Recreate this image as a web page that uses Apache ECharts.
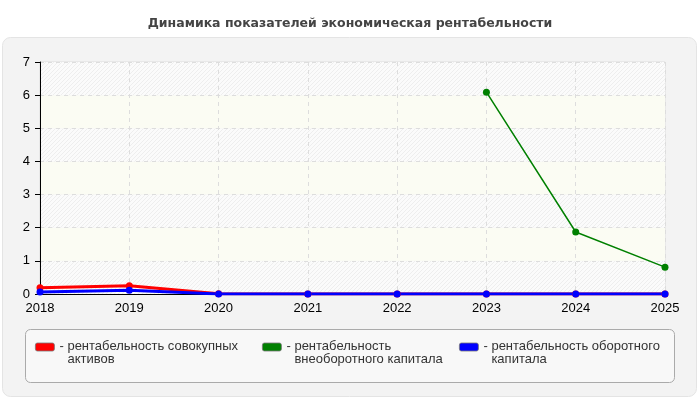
<!DOCTYPE html>
<html lang="ru">
<head>
    <meta charset="UTF-8">
    <title>Динамика показателей</title>
    <script src="https://cdn.jsdelivr.net/npm/echarts@6/dist/echarts.min.js"></script>
    <style>
        html, body { margin: 0; padding: 0; background: #fff; }
        #chart { width: 700px; height: 400px; }
    </style>
</head>
<body>
    <div id="chart"></div>
    <script>
        // data
        var years = ['2018', '2019', '2020', '2021', '2022', '2023', '2024', '2025'];
        var totalAssets = [0.19, 0.25, 0.01, 0, 0, 0, 0, 0];
        var nonCurrent = [null, null, null, null, null, 6.09, 1.87, 0.81];
        var working = [0.06, 0.11, 0, 0, 0, 0, 0, 0];
        var yTicks = [0, 1, 2, 3, 4, 5, 6, 7];

        var names = [
            'рентабельность совокупных активов',
            'рентабельность внеоборотного капитала',
            'рентабельность оборотного капитала'
        ];
        var wrapped = [
            ['рентабельность совокупных', 'активов'],
            ['рентабельность', 'внеоборотного капитала'],
            ['рентабельность оборотного', 'капитала']
        ];
        var colors = ['#ff0000', '#008000', '#0000ff'];

        // diagonal hatch for alternating bands
        function hatch() {
            var c = document.createElement('canvas');
            c.width = 4; c.height = 4;
            var g = c.getContext('2d');
            g.fillStyle = '#fbfbfb';
            g.fillRect(0, 0, 4, 4);
            g.strokeStyle = '#eeeeee';
            g.lineWidth = 1;
            g.beginPath();
            g.moveTo(0, 4); g.lineTo(4, 0);
            g.moveTo(-2, 2); g.lineTo(2, -2);
            g.moveTo(2, 6); g.lineTo(6, 2);
            g.stroke();
            return { image: c, repeat: 'repeat' };
        }

        var chart = echarts.init(document.getElementById('chart'));

        var legendLeft = [35, 262, 459];
        var legends = names.map(function (n, i) {
            return {
                left: legendLeft[i],
                top: 340,
                padding: 0,
                data: [n],
                itemWidth: 19,
                itemHeight: 8,
                itemGap: 0,
                icon: 'roundRect',
                itemStyle: { borderColor: '#777', borderWidth: 0.8 },
                selectedMode: false,
                formatter: function () {
                    return '{d|-}{t|' + wrapped[i][0] + '}\n{s| }{t|' + wrapped[i][1] + '}';
                },
                textStyle: {
                    fontFamily: 'Liberation Sans',
                    fontSize: 13,
                    color: '#333',
                    padding: [12, 0, 0, 0],
                    rich: {
                        d: { width: 8, fontSize: 13, color: '#333', fontFamily: 'Liberation Sans' },
                        s: { width: 8, fontSize: 13, fontFamily: 'Liberation Sans' },
                        t: { fontSize: 13, color: '#333', fontFamily: 'Liberation Sans', lineHeight: 12 }
                    }
                }
            };
        });

        var option = {
            animation: false,
            title: {
                text: 'Динамика показателей экономическая рентабельности',
                left: 'center',
                top: 12,
                textStyle: { fontFamily: 'DejaVu Sans', fontSize: 12.5, fontWeight: 'bold', color: '#444' }
            },
            graphic: [
                {
                    type: 'rect', z: -10,
                    shape: { x: 2.5, y: 37.5, width: 694, height: 359, r: 8 },
                    style: { fill: '#f3f3f3', stroke: '#e4e4e4', lineWidth: 1 }
                },
                {
                    type: 'rect', z: -9,
                    shape: { x: 25.5, y: 329.5, width: 649, height: 53, r: 5 },
                    style: { fill: '#f8f8f8', stroke: '#aaaaaa', lineWidth: 1 }
                }
            ],
            legend: legends,
            grid: {
                left: 40, right: 35, top: 62, bottom: 106,
                show: true, borderColor: '#dddddd', borderWidth: 1, backgroundColor: 'transparent'
            },
            xAxis: {
                type: 'category',
                data: years,
                boundaryGap: false,
                axisLine: { lineStyle: { color: '#000' } },
                axisTick: { show: false },
                axisLabel: { color: '#000', fontFamily: 'Liberation Sans', fontSize: 13, margin: 8 },
                splitLine: { show: true, lineStyle: { color: '#dddddd', type: [4, 4] } }
            },
            yAxis: {
                type: 'value',
                min: yTicks[0],
                max: yTicks[yTicks.length - 1],
                interval: 1,
                axisLine: { show: true, lineStyle: { color: '#000' } },
                axisTick: { show: true, length: 5, lineStyle: { color: '#000' } },
                axisLabel: { color: '#000', fontFamily: 'Liberation Sans', fontSize: 13, margin: 10 },
                splitLine: { show: true, lineStyle: { color: '#dddddd', type: [4, 4] } },
                splitArea: { show: true, areaStyle: { color: [hatch(), '#fbfcf3'] } }
            },
            series: [
                {
                    name: names[0], type: 'line', data: totalAssets,
                    color: colors[0], symbol: 'circle', symbolSize: 7,
                    lineStyle: { width: 3 }
                },
                {
                    name: names[1], type: 'line', data: nonCurrent,
                    color: colors[1], symbol: 'circle', symbolSize: 7,
                    lineStyle: { width: 1.5 }
                },
                {
                    name: names[2], type: 'line', data: working,
                    color: colors[2], symbol: 'circle', symbolSize: 7,
                    lineStyle: { width: 3 }
                }
            ]
        };

        chart.setOption(option);
    </script>
</body>
</html>
